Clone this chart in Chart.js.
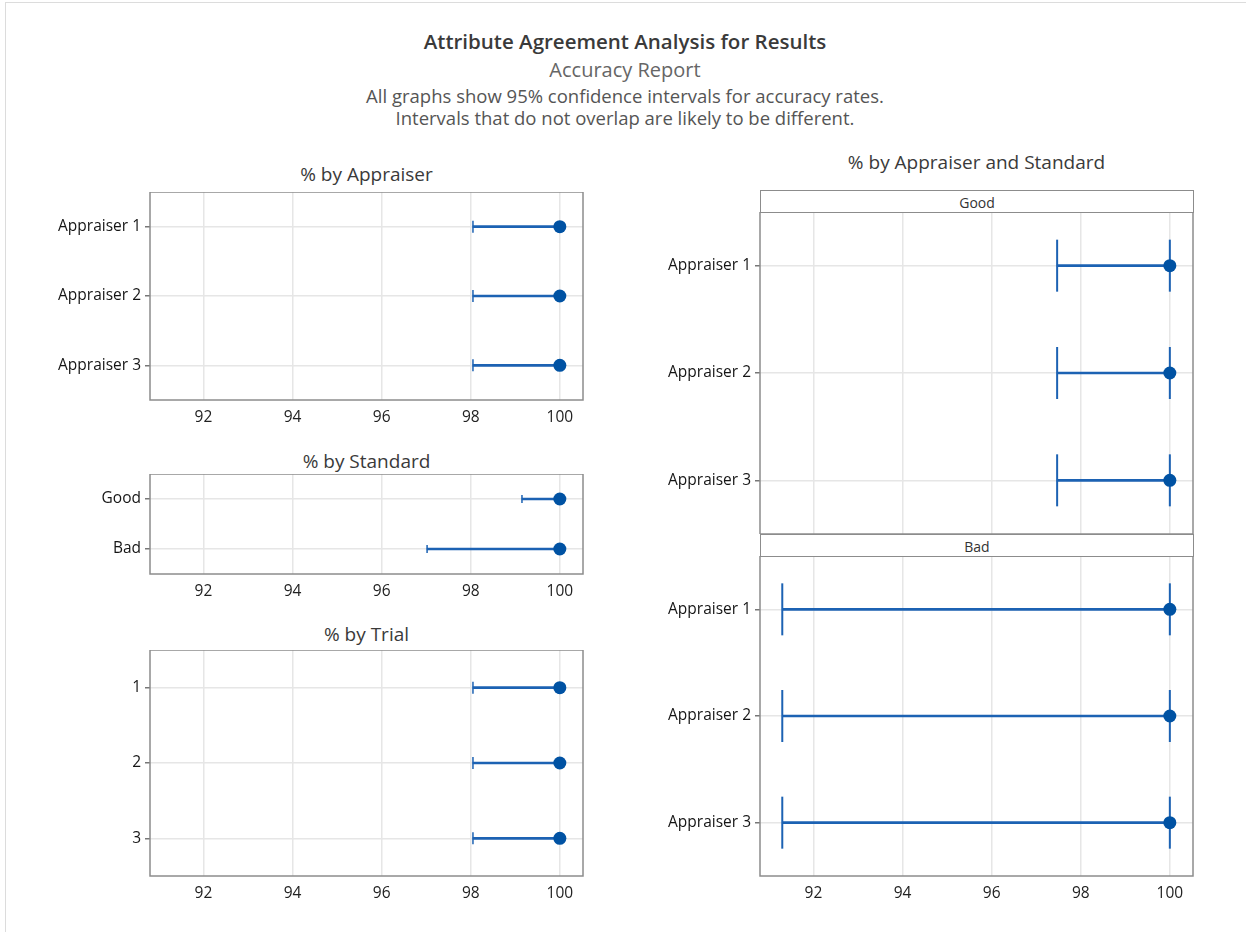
<!DOCTYPE html>
<html>
<head>
<meta charset="utf-8">
<script src="https://cdn.jsdelivr.net/npm/chart.js@4"></script>
<style>
  body { margin: 0; background: #fff; font-family: "Open Sans", "Noto Sans", sans-serif; }
  #page { position: absolute; left: 5px; top: 2px; width: 1240px; height: 940px; border: 1px solid #dcdcdc; border-bottom: none; }
  .txt { position: absolute; text-align: center; white-space: nowrap; line-height: 1.36; }
  .box { position: absolute; }
  .strip { position: absolute; left: 760px; width: 432px; height: 21px; border: 1px solid #8c8c8c; background: #fff;
           font-size: 14px; color: #333; text-align: center; line-height: 24px; box-sizing: content-box; }
</style>
</head>
<body>
<div id="page"></div>
<div class="txt" style="left:0;width:1250px;top:28px;font-size:20.5px;font-weight:600;color:#3a3a3a">Attribute Agreement Analysis for Results</div>
<div class="txt" style="left:0;width:1250px;top:56px;font-size:20px;color:#666">Accuracy Report</div>
<div class="txt" style="left:0;width:1250px;top:83px;font-size:18.5px;color:#555">All graphs show 95% confidence intervals for accuracy rates.</div>
<div class="txt" style="left:0;width:1250px;top:105px;font-size:18.5px;color:#555">Intervals that do not overlap are likely to be different.</div>

<div class="txt" style="left:150px;width:433px;top:162px;font-size:19px;color:#3a3a3a">% by Appraiser</div>
<div class="txt" style="left:150px;width:433px;top:449px;font-size:19px;color:#3a3a3a">% by Standard</div>
<div class="txt" style="left:150px;width:433px;top:622px;font-size:19px;color:#3a3a3a">% by Trial</div>
<div class="txt" style="left:760px;width:433px;top:150px;font-size:19px;color:#3a3a3a">% by Appraiser and Standard</div>

<div class="box" style="left:40px;top:192px;width:560px;height:238px"><canvas id="cAppr"></canvas></div>
<div class="box" style="left:40px;top:474px;width:560px;height:130px"><canvas id="cStd"></canvas></div>
<div class="box" style="left:40px;top:650px;width:560px;height:256px"><canvas id="cTrial"></canvas></div>
<div class="box" style="left:650px;top:212px;width:560px;height:322px"><canvas id="cGood"></canvas></div>
<div class="box" style="left:650px;top:556px;width:560px;height:350px"><canvas id="cBad"></canvas></div>
<div class="strip" style="top:190px">Good</div>
<div class="strip" style="top:534px">Bad</div>

<script>
// ---- data ----
const xTicks = [92, 94, 96, 98, 100];

const appraisers = ['Appraiser 1', 'Appraiser 2', 'Appraiser 3'];
const apprEst = [100, 100, 100];
const apprLow = [98.05, 98.05, 98.05];

const standards = ['Good', 'Bad'];
const stdEst = [100, 100];
const stdLow = [99.15, 97.02];

const trials = ['1', '2', '3'];
const trialEst = [100, 100, 100];
const trialLow = [98.05, 98.05, 98.05];

const goodEst = [100, 100, 100];
const goodLow = [97.47, 97.47, 97.47];
const goodHigh = [100, 100, 100];

const badEst = [100, 100, 100];
const badLow = [91.3, 91.3, 91.3];
const badHigh = [100, 100, 100];

// ---- drawing ----
const lineColor = '#1c62b3';
const dotColor = '#0052a3';

// full box round the plot area
const framePlugin = {
    id: 'frame',
    afterDraw(chart) {
        const a = chart.chartArea, ctx = chart.ctx;
        ctx.save();
        ctx.strokeStyle = '#8c8c8c';
        ctx.lineWidth = 1.5;
        ctx.strokeRect(a.left, a.top, a.right - a.left, a.bottom - a.top);
        ctx.restore();
    }
};

const makeChart = (id, labels, est, low, high, capR, showX) => {
    const pts = (vals) => vals.map((v, i) => ({ x: v, y: labels[i] }));
    const datasets = [
        { type: 'scatter', data: pts(est), pointRadius: 6.5, pointBackgroundColor: dotColor, pointBorderWidth: 0 },
        { type: 'scatter', data: pts(low), pointStyle: 'line', rotation: 90, pointRadius: capR,
          pointBorderColor: lineColor, pointBorderWidth: capR > 10 ? 2 : 1.5 },
        { type: 'bar', indexAxis: 'y', data: low.map((v, i) => [v, est[i]]), backgroundColor: lineColor,
          barThickness: 2, borderWidth: 0 }
    ];
    if (high) {
        datasets.splice(1, 0, { type: 'scatter', data: pts(high), pointStyle: 'line', rotation: 90, pointRadius: capR,
          pointBorderColor: lineColor, pointBorderWidth: 2 });
    }
    return new Chart(document.getElementById(id), {
        type: 'bar',
        data: { labels: labels, datasets: datasets },
        plugins: [framePlugin],
        options: {
            responsive: true,
            maintainAspectRatio: false,
            animation: false,
            layout: { autoPadding: false, padding: { top: 0, left: 0, right: 17, bottom: 0 } },
            plugins: { legend: { display: false }, tooltip: { enabled: false } },
            scales: {
                x: {
                    type: 'linear', min: 90.8, max: 100.52, offset: false,
                    afterBuildTicks: (s) => { s.ticks = xTicks.map(v => ({ value: v })); },
                    afterFit: (s) => { s.height = showX ? 30 : 0; },
                    border: { display: false },
                    grid: { offset: false, color: '#e6e6e6', lineWidth: 1.5, drawTicks: false },
                    ticks: { display: showX, padding: 8, color: '#222', font: { family: 'Open Sans', size: 15.5 } }
                },
                y: {
                    type: 'category', offset: true,
                    // fixed label width, and no extra room above/below for the end labels
                    afterFit: (s) => { s.width = 110; s.paddingTop = 0; s.paddingBottom = 0; },
                    border: { display: false },
                    grid: { offset: false, color: '#e6e6e6', lineWidth: 1.5, tickLength: 5, tickColor: '#777' },
                    ticks: { padding: 4, color: '#151515', font: { family: 'Open Sans', size: 15.5 } }
                }
            }
        }
    });
};

makeChart('cAppr', appraisers, apprEst, apprLow, null, 6, true);
makeChart('cStd', standards, stdEst, stdLow, null, 4, true);
makeChart('cTrial', trials, trialEst, trialLow, null, 6, true);
makeChart('cGood', appraisers, goodEst, goodLow, goodHigh, 26, false);
makeChart('cBad', appraisers, badEst, badLow, badHigh, 26, true);
</script>
</body>
</html>
